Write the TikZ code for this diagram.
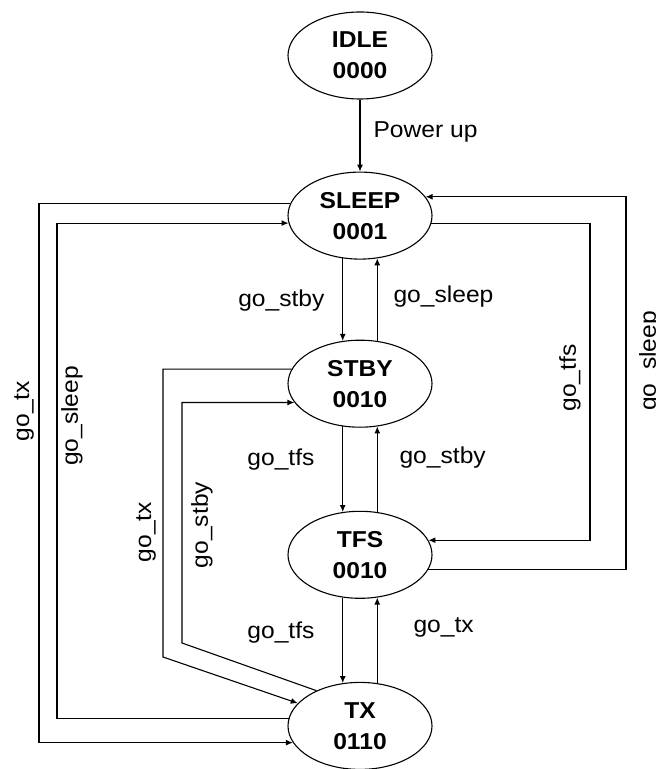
\documentclass[tikz,border=0pt]{standalone}
\usepackage{fontspec}
\setmainfont{Liberation Sans}[FakeStretch=1.07]
\usetikzlibrary{arrows.meta,positioning,shapes.geometric}
\newcommand{\stfont}{\fontsize{11.5}{15.5}\selectfont}

\begin{document}
\begin{tikzpicture}[
  x=0.5pt, y=-0.5pt,
  line width=0.55pt,
  font=\stfont,
  state/.style={draw, ellipse, minimum width=72pt, minimum height=43.5pt, inner sep=0pt, align=center, font=\stfont\bfseries},
  arrow/.style={-{Latex[length=3.5pt,width=3pt]}},
  hlabel/.style={inner sep=0pt},
  vlabel/.style={inner sep=0pt, rotate=90}
]
\useasboundingbox (0,0) rectangle (656,769);
% states
\node[state] (idle) at (360,55.5) {IDLE\\0000};
\node[state, below=36pt of idle] (sleep) {SLEEP\\0001};
\node[state, below=40pt of sleep] (stby) {STBY\\0010};
\node[state, below=41.5pt of stby] (tfs) {TFS\\0010};
\node[state, below=41.5pt of tfs] (tx) {TX\\0110};
% bend points of the loops
\coordinate (gotxA) at (39,0);
\coordinate (gosleepA) at (57,0);
\coordinate (gotxB) at (163,657);
\coordinate (gostbyB) at (182,643);
\coordinate (gotfsR) at (590,0);
\coordinate (gosleepR) at (626,0);
% straight transitions
\draw[arrow] (idle) -- (sleep);
\draw[arrow] (sleep.248) -- (stby.112);
\draw[arrow] (stby.68) -- (sleep.292);
\draw[arrow] (stby.248) -- (tfs.112);
\draw[arrow] (tfs.68) -- (stby.292);
\draw[arrow] (tfs.248) -- (tx.112);
\draw[arrow] (tx.68) -- (tfs.292);
% loops
\draw[arrow] (sleep.170) -| (gotxA |- tx.194) -- (tx.194);
\draw[arrow] (tx.174) -| (gosleepA |- sleep.186) -- (sleep.186);
\draw[arrow] (stby.168) -| (gotxB) -- (tx.160);
\draw[arrow] (tx.141) -- (gostbyB) |- (stby.196);
\draw[arrow] (sleep.354) -| (gotfsR |- tfs.12) -- (tfs.12);
\draw[arrow] (tfs.348) -| (gosleepR |- sleep.16) -- (sleep.16);
% labels
\node[hlabel, anchor=base west] (lpower) at (373,138) {Power up};
\node[hlabel, anchor=base east] (lstbyA) at (325,307) {go\_stby};
\node[hlabel, anchor=base west] (lsleepA) at (393,303) {go\_sleep};
\node[hlabel, anchor=base east] (ltfsA) at (315,465) {go\_tfs};
\node[hlabel, anchor=base west] (lstbyB) at (399,463) {go\_stby};
\node[hlabel, anchor=base east] (ltfsB) at (315,638) {go\_tfs};
\node[hlabel, anchor=base west] (ltxA) at (413,632) {go\_tx};
\node[vlabel] (ltxL) at (24,411) {go\_tx};
\node[vlabel] (lsleepL) at (72,416) {go\_sleep};
\node[vlabel] (ltxM) at (146,532) {go\_tx};
\node[vlabel] (lstbyM) at (202,525) {go\_stby};
\node[vlabel] (ltfsR) at (570,378) {go\_tfs};
\node[vlabel] (lsleepR) at (650,361) {go\_sleep};
\end{tikzpicture}
\end{document}
